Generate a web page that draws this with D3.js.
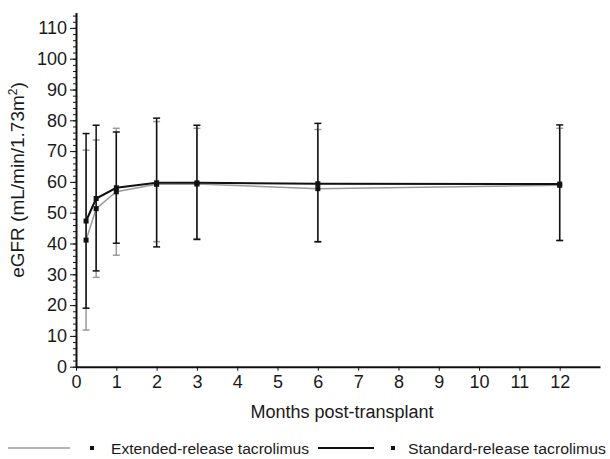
<!DOCTYPE html>
<meta charset="utf-8">
<style>
body { margin: 0; background: #fff; }
text { font-family: "Liberation Sans", Arial, sans-serif; fill: #1a1a1a; }
.axis path, .axis line { stroke: #111; }
</style>
<svg width="610" height="459"></svg>
<script src="https://d3js.org/d3.v7.min.js"></script>
<script>

// months post-transplant at which eGFR was measured
var months = [0.25, 0.5, 1, 2, 3, 6, 12];

// extended-release tacrolimus (grey)
var extMean = [41.1, 51.3, 56.8, 59.2, 59.3, 57.8, 58.9];
var extLow  = [11.9, 29.0, 36.2, 40.6, 41.6, 40.4, 40.9];
var extHigh = [70.3, 73.6, 77.4, 79.6, 77.4, 77.0, 77.4];

// standard-release tacrolimus (black)
var stdMean = [47.3, 54.6, 58.1, 59.7, 59.7, 59.4, 59.3];
var stdLow  = [19.0, 31.1, 40.1, 38.9, 41.3, 40.6, 41.0];
var stdHigh = [75.7, 78.4, 76.2, 80.7, 78.4, 79.0, 78.5];

var xTicks = [0, 1, 2, 3, 4, 5, 6, 7, 8, 9, 10, 11, 12];
var yTicks = [0, 10, 20, 30, 40, 50, 60, 70, 80, 90, 100, 110];

var svg = d3.select("svg");

var x = d3.scaleLinear().domain([0, 13]).range([76, 600]);
var y = d3.scaleLinear().domain([0, 115]).range([366.7, 12.5]);

// minor y ticks
svg.append("g")
    .attr("class", "axis")
    .attr("transform", "translate(" + x(0) + ",0)")
    .call(d3.axisLeft(y).tickValues(d3.range(0, 115, 2)).tickSize(3).tickFormat(""))
    .call(function(g) { g.select(".domain").remove(); });

var yAxis = svg.append("g")
    .attr("class", "axis")
    .attr("transform", "translate(" + x(0) + ",0)")
    .call(d3.axisLeft(y).tickValues(yTicks).tickSize(6).tickSizeOuter(0).tickPadding(3));
yAxis.select(".domain").attr("stroke-width", 2);
yAxis.selectAll("text").style("font-size", "18px");

var xAxis = svg.append("g")
    .attr("class", "axis")
    .attr("transform", "translate(0," + y(0) + ")")
    .call(d3.axisBottom(x).tickValues(xTicks).tickSize(4).tickSizeOuter(0).tickPadding(5));
xAxis.select(".domain").attr("stroke-width", 2);
xAxis.selectAll("text").style("font-size", "18px");

svg.append("text")
    .attr("x", 342)
    .attr("y", 418)
    .attr("text-anchor", "middle")
    .style("font-size", "18px")
    .text("Months post-transplant");

svg.append("text")
    .attr("transform", "translate(24,180) rotate(-90)")
    .attr("text-anchor", "middle")
    .style("font-size", "19px")
    .html("eGFR (mL/min/1.73m<tspan dy='-7' style='font-size:12px'>2</tspan><tspan dy='7'>)</tspan>");

var series = [
  { mean: extMean, low: extLow, high: extHigh, color: "#9a9a9a", width: 1.5 },
  { mean: stdMean, low: stdLow, high: stdHigh, color: "#111", width: 2 }
];

series.forEach(function(s) {
  var g = svg.append("g");
  var pts = months.map(function(m, i) { return { m: m, v: s.mean[i], lo: s.low[i], hi: s.high[i] }; });

  // error bars
  g.selectAll(".bar").data(pts).enter().append("line")
      .attr("x1", function(d) { return x(d.m); })
      .attr("x2", function(d) { return x(d.m); })
      .attr("y1", function(d) { return y(d.lo); })
      .attr("y2", function(d) { return y(d.hi); })
      .attr("stroke", s.color)
      .attr("stroke-width", 1.5);
  ["lo", "hi"].forEach(function(k) {
    g.selectAll(".cap" + k).data(pts).enter().append("line")
        .attr("x1", function(d) { return x(d.m) - 3.5; })
        .attr("x2", function(d) { return x(d.m) + 3.5; })
        .attr("y1", function(d) { return y(d[k]); })
        .attr("y2", function(d) { return y(d[k]); })
        .attr("stroke", s.color)
        .attr("stroke-width", 1.5);
  });

  var line = d3.line().x(function(d) { return x(d.m); }).y(function(d) { return y(d.v); });
  g.append("path").datum(pts)
      .attr("d", line)
      .attr("fill", "none")
      .attr("stroke", s.color)
      .attr("stroke-width", s.width);

  g.selectAll(".pt").data(pts).enter().append("rect")
      .attr("x", function(d) { return x(d.m) - 2.5; })
      .attr("y", function(d) { return y(d.v) - 2.5; })
      .attr("width", 5)
      .attr("height", 5)
      .attr("fill", "#111");
});

// legend
var legend = [
  { label: "Extended-release tacrolimus", color: "#9a9a9a", width: 1.5, x0: 8, x1: 70, mx: 92, tx: 111 },
  { label: "Standard-release tacrolimus", color: "#111", width: 2, x0: 318, x1: 374, mx: 393, tx: 408 }
];
var ly = 448;
legend.forEach(function(l) {
  svg.append("line")
      .attr("x1", l.x0).attr("x2", l.x1)
      .attr("y1", ly).attr("y2", ly)
      .attr("stroke", l.color)
      .attr("stroke-width", l.width);
  svg.append("rect")
      .attr("x", l.mx - 2).attr("y", ly - 2)
      .attr("width", 4).attr("height", 4)
      .attr("fill", "#111");
  svg.append("text")
      .attr("x", l.tx).attr("y", ly + 5.5)
      .style("font-size", "15.5px")
      .attr("textLength", 198)
      .attr("lengthAdjust", "spacingAndGlyphs")
      .text(l.label);
});

</script>
